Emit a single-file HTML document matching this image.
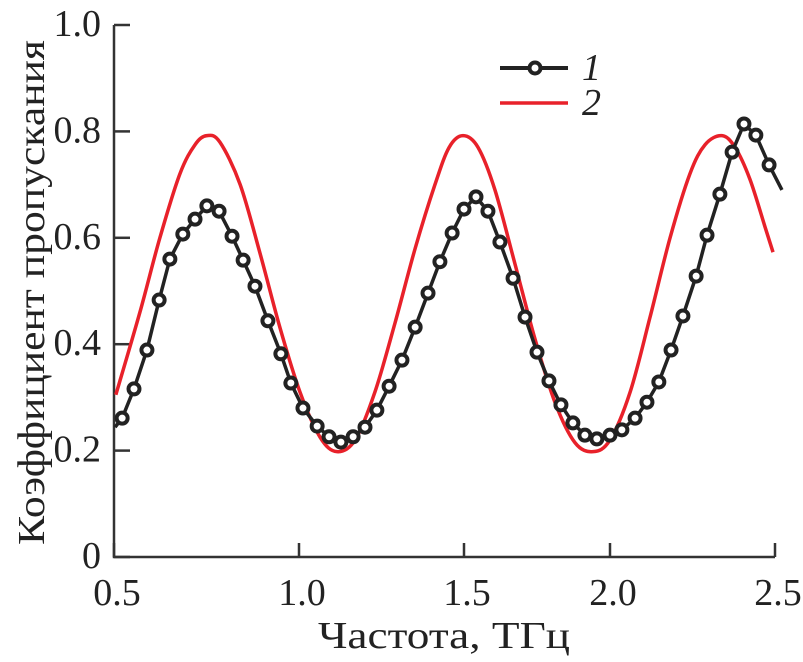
<!DOCTYPE html>
<html><head><meta charset="utf-8"><style>
html,body{margin:0;padding:0;background:#fff;}
svg{display:block;font-family:"Liberation Serif","DejaVu Serif",serif;}
</style></head><body>
<svg id="chart" width="803" height="662" viewBox="0 0 803 662">
<g id="axes"></g>
<g id="series"></g>
<g>
<line x1="500" y1="68" x2="568" y2="68" stroke="#222" stroke-width="4"/>
<circle cx="535" cy="68" r="5.5" fill="#fff" stroke="#222" stroke-width="4"/>
<text x="582" y="80" font-size="38" font-style="italic" fill="#222">1</text>
<line x1="500" y1="103" x2="568" y2="103" stroke="#e8212a" stroke-width="3.5"/>
<text x="582" y="115" font-size="38" font-style="italic" fill="#222">2</text>
</g>
<text x="318" y="648" font-size="38" textLength="252" lengthAdjust="spacingAndGlyphs" fill="#222">Частота, ТГц</text>
<text transform="translate(44,545) rotate(-90)" font-size="38" textLength="505" lengthAdjust="spacingAndGlyphs" fill="#222">Коэффициент пропускания</text>
</svg>
<script>
const xTicks=[0.5,1.0,1.5,2.0,2.5];
const xTickLabels=["0.5","1.0","1.5","2.0","2.5"];
const yTicks=[0,0.2,0.4,0.6,0.8,1.0];
const yTickLabels=["0","0.2","0.4","0.6","0.8","1.0"];
const freq1=[0.522,0.554,0.589,0.622,0.651,0.686,0.719,0.751,0.784,0.819,0.849,0.881,0.916,0.951,0.978,1.012,1.055,1.091,1.127,1.164,1.200,1.236,1.273,1.312,1.352,1.391,1.427,1.464,1.500,1.541,1.582,1.623,1.668,1.709,1.750,1.791,1.832,1.873,1.914,1.955,2.000,2.036,2.076,2.112,2.148,2.185,2.221,2.261,2.294,2.333,2.370,2.406,2.442,2.482];
const trans1=[0.261,0.316,0.389,0.483,0.560,0.607,0.635,0.660,0.650,0.603,0.558,0.509,0.444,0.382,0.327,0.280,0.246,0.226,0.216,0.226,0.244,0.276,0.321,0.370,0.432,0.496,0.555,0.609,0.654,0.677,0.650,0.592,0.524,0.451,0.385,0.331,0.286,0.252,0.229,0.222,0.229,0.239,0.261,0.291,0.329,0.389,0.453,0.528,0.605,0.682,0.761,0.814,0.793,0.737];
const line1Start=[0.503,0.244];
const line1End=[2.521,0.690];
const freq2=[0.505,0.570,0.624,0.678,0.719,0.751,0.786,0.841,0.895,0.949,1.003,1.064,1.115,1.170,1.230,1.291,1.352,1.412,1.455,1.497,1.548,1.606,1.675,1.743,1.812,1.880,1.942,2.000,2.061,2.121,2.182,2.242,2.288,2.339,2.379,2.424,2.470,2.494];
const trans2=[0.305,0.46,0.60,0.72,0.775,0.792,0.78,0.70,0.57,0.43,0.31,0.225,0.198,0.22,0.31,0.44,0.58,0.70,0.77,0.792,0.77,0.69,0.55,0.41,0.29,0.215,0.198,0.22,0.31,0.45,0.60,0.72,0.775,0.792,0.77,0.71,0.62,0.573];

const tickPx=[114,299,464,610,775];
function xs(f){
  let i=0; while(i<xTicks.length-2 && f>xTicks[i+1]) i++;
  return tickPx[i]+(f-xTicks[i])/(xTicks[i+1]-xTicks[i])*(tickPx[i+1]-tickPx[i]);
}
function ys(v){return 557-532*v;}
const NS="http://www.w3.org/2000/svg";
function mk(t,a,p){const e=document.createElementNS(NS,t);for(const k in a)e.setAttribute(k,a[k]);p.appendChild(e);return e;}
const axes=document.getElementById('axes');
let el=mk('path',{d:`M114,${ys(1)} V557 H775`,fill:'none',stroke:'#333',"stroke-width":2.5},axes);


xTicks.forEach((t,i)=>{
  const x=xs(t);
  let l=mk('line',{x1:x,y1:557,x2:x,y2:543,stroke:'#333',"stroke-width":2.5},axes);
  
  
  let tx=mk('text',{x:x+3,y:605,"font-size":38,"text-anchor":"middle",fill:'#222'},axes);
  tx.textContent=xTickLabels[i];
  
  
});
yTicks.forEach((t,i)=>{
  const y=ys(t);
  let l=mk('line',{x1:114,y1:y,x2:130,y2:y,stroke:'#333',"stroke-width":2.5},axes);
  
  
  let tx=mk('text',{x:101,y:y+11,"font-size":38,"text-anchor":"end",fill:'#222'},axes);
  tx.textContent=yTickLabels[i];
  
  
});
function smooth(pts){
  let d=`M${pts[0][0]},${pts[0][1]}`;
  for(let i=0;i<pts.length-1;i++){
    const p0=pts[Math.max(0,i-1)],p1=pts[i],p2=pts[i+1],p3=pts[Math.min(pts.length-1,i+2)];
    const c1=[p1[0]+(p2[0]-p0[0])/6,p1[1]+(p2[1]-p0[1])/6];
    const c2=[p2[0]-(p3[0]-p1[0])/6,p2[1]-(p3[1]-p1[1])/6];
    d+=` C${c1[0]},${c1[1]} ${c2[0]},${c2[1]} ${p2[0]},${p2[1]}`;
  }
  return d;
}
const ser=document.getElementById('series');
const p2=freq2.map((f,i)=>[xs(f),ys(trans2[i])]);
let r=mk('path',{d:smooth(p2),fill:'none',stroke:'#e8212a',"stroke-width":3.5},ser);


const p1=[[xs(line1Start[0]),ys(line1Start[1])]].concat(freq1.map((f,i)=>[xs(f),ys(trans1[i])])).concat([[xs(line1End[0]),ys(line1End[1])]]);
let b=mk('polyline',{points:p1.map(p=>p.join(',')).join(' '),fill:'none',stroke:'#222',"stroke-width":3.5},ser);


freq1.forEach((f,i)=>{
  let c=mk('circle',{cx:xs(f),cy:ys(trans1[i]),r:5.5,fill:'#fff',stroke:'#222',"stroke-width":4},ser);
  
  
});
</script>
</body></html>
